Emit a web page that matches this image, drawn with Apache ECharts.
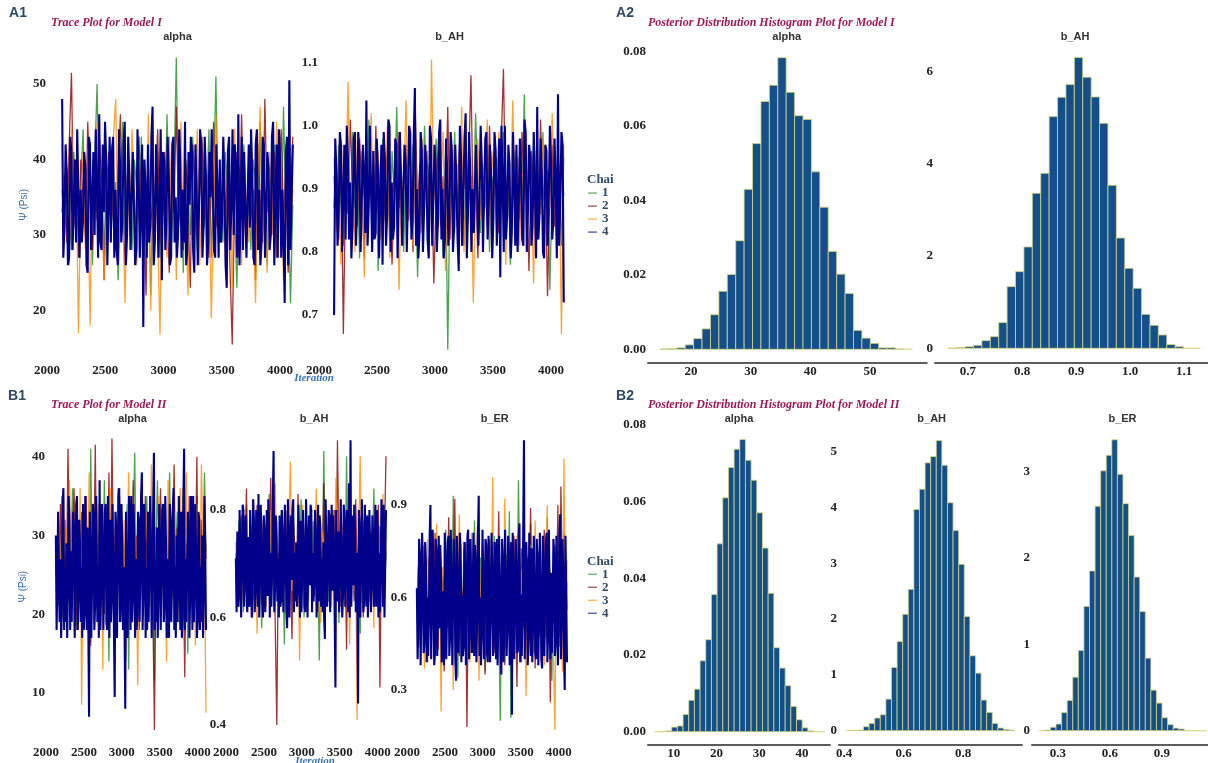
<!DOCTYPE html>
<html><head><meta charset="utf-8">
<script src="https://cdn.jsdelivr.net/npm/echarts@6/dist/echarts.min.js"></script>
<style>html,body{margin:0;padding:0;background:#fff}#c{width:1208px;height:763px}</style>
</head><body><div id="c"></div>
<script>
// ---------- chains ----------
const chainNames = ['1', '2', '3', '4'];
const chainColors = ['#1e8c1e', '#8b0000', '#ff8c00', '#00008b'];
const chainOpacity = [0.8, 0.8, 0.8, 1];
const chainWidth = [1.3, 1.3, 1.3, 2.1];
const iterStart = 2130, iterEnd = 4110;   // first and last plotted draw of every chain

// ---------- Model I trace: alpha ----------
const m1AlphaC1 = [36,31,39,33,28,41,35,30,37,44, 29,34,38,26,40,50,32,36,27,39, 35,42,31,37,24,33,45,30,38,34, 28,40,36,32,43,29,35,39,22,37, 33,41,27,36,31,46,34,29,38,53.5, 32,37,25,40,35,30,43,33,28,36, 39,31,34,44,27,37,51,32,35,29, 41,36,30,38,33,23,39,35,42,31, 34,28,40,37,32,45,30,36,26,39, 35,42,31,38,29,47,33,36,21,34];
const m1AlphaC2 = [33,38,29,42,51.5,31,36,27,40,34, 30,45,35,28,39,32,43,37,24,36, 41,31,35,29,38,46,33,26,37,32, 40,35,28,43,31,37,22,39,34,30, 36,44,29,35,41,32,25,38,33,47, 31,36,28,40,34,23,42,37,30,35, 43,32,38,27,36,45,31,34,29,40, 33,38,26,15.5,35,41,30,46,34,28, 39,32,36,24,42,35,29,48,33,37, 30,41,27,36,44,32,38,25,35,43];
const m1AlphaC3 = [42,30,37,26,44,33,39,17,35,41, 28,36,18,40,32,45,29,37,24,34, 39,31,43,48,27,36,33,21,38,30, 44,35,26,40,32,37,28,46,20,34, 38,30,16.8,41,35,27,43,33,39,24, 36,45,29,34,22,40,31,37,44,26, 35,41,28,38,19,33,46,30,36,42, 27,39,34,23,44,31,37,26,40,35, 29,43,33,21,38,47,30,36,25,41, 34,28,45,32,37,24,39,43,30,36];
const m1AlphaC4 = [48,27,31,42,38,26,27,43,41,28,34,40,29,44,44,27,36,29,32,41, 39,26,25,43,42,28,35,41,30,44,37,27,46,29,28,42,33,45,40,26, 34,43,29,41,43,27,36,28,26,44,39,29,32,42,45,26,30,43,37,28, 35,41,41,26,28,44,38,27,33,42,17.8,40,36,27,42,29,31,43,47,26, 29,42,37,27,34,44,24,41,40,28,32,43,38,26,27,42,43,29,35,27, 30,44,39,27,36,29,45,26,28,41,34,43,41,28,25,42,37,26,33,44, 42,27,31,43,38,26,29,41,35,44,44,28,27,42,36,27,40,29,32,43, 37,26,23,41,43,28,34,44,30,42,39,27,46,26,33,43,28,41,41,27, 35,42,31,44,38,27,26,42,44,28,36,26,29,43,42,27,33,41,39,28, 30,43,45,26,34,42,27,44,40,27,36,29,21,41,43,26,50.5,28,35,42];

// ---------- Model I trace: b_AH ----------
const m1bAHC1 = [0.92,0.85,0.97,0.88,0.81,0.95,0.90,0.83,0.99,0.87, 0.93,0.79,0.96,0.89,0.84,1.01,0.91,0.86,0.94,0.77, 0.90,0.98,0.85,0.92,0.82,0.96,0.88,1.03,0.87,0.93, 0.80,0.95,0.89,0.84,0.97,0.91,0.76,0.93,0.86,1.00, 0.88,0.94,0.83,0.90,0.98,0.85,0.92,0.79,0.95,0.645, 0.91,0.87,0.99,0.84,0.93,0.89,0.81,0.96,0.88,0.92, 0.85,1.02,0.90,0.83,0.94,0.87,0.97,0.80,0.92,0.89, 0.95,0.84,0.91,0.99,0.86,0.93,0.78,0.90,0.96,0.85, 0.92,0.88,1.05,0.83,0.94,0.89,0.97,0.82,0.91,0.87, 0.99,0.85,0.93,0.74,0.90,0.96,0.86,0.92,0.81,0.95];
const m1bAHC2 = [0.87,0.94,0.82,0.97,0.67,0.91,0.86,1.01,0.89,0.93, 0.84,0.98,0.90,0.79,0.95,0.88,0.92,0.83,1.00,0.86, 0.94,0.81,0.91,0.96,0.87,0.78,0.93,0.89,0.99,0.84, 0.91,0.97,0.85,0.92,0.80,1.02,0.88,0.94,0.83,0.90, 0.96,0.86,0.93,0.75,0.89,0.98,0.84,0.92,0.87,1.03, 0.82,0.95,0.90,0.86,0.97,0.81,0.93,0.88,0.94,1.08, 0.85,0.91,0.79,0.96,0.89,0.92,0.84,1.00,0.87,0.93, 0.90,0.83,0.97,1.09,0.86,0.94,0.80,0.91,0.88,0.95, 0.85,0.99,0.89,0.92,0.77,0.96,0.87,0.93,0.82,1.01, 0.88,0.94,0.73,0.90,0.97,0.84,0.92,0.86,0.95,0.89];
const m1bAHC3 = [0.95,0.83,0.91,0.78,0.97,0.88,1.07,0.85,0.93,0.80, 0.99,0.87,0.92,0.76,0.94,0.89,1.02,0.84,0.90,0.96, 0.82,0.93,0.88,1.00,0.79,0.91,0.86,0.97,0.74,0.92, 0.89,1.04,0.85,0.94,0.81,0.96,0.90,0.83,0.98,0.87, 0.93,0.79,1.105,0.88,0.95,0.84,0.91,0.99,0.77,0.92, 0.86,0.97,0.83,0.94,0.89,1.03,0.80,0.92,0.87,0.95, 0.72,0.90,0.98,0.85,0.93,0.88,1.01,0.82,0.96,0.91, 0.84,0.99,0.87,0.94,0.78,0.92,0.86,1.04,0.89,0.95, 0.81,0.93,0.88,0.97,0.84,0.91,0.75,0.96,0.90,0.86, 0.98,0.83,0.92,0.87,1.02,0.89,0.80,0.94,0.67,0.97];
const m1bAHC4 = [0.70,0.98,0.93,0.81,0.86,0.99,0.97,0.80,0.89,0.97,0.82,1.00,0.95,0.82,0.91,0.79,0.84,0.98,0.99,0.81, 0.88,0.99,0.94,0.80,0.80,0.97,0.92,0.83,1.04,0.81,0.87,1.00,0.90,0.80,0.96,0.82,0.83,0.98,0.93,0.79, 0.89,0.97,0.78,0.99,0.95,0.81,0.86,1.01,1.00,0.80,0.91,0.82,0.84,0.98,0.97,0.79,0.88,0.99,0.92,0.81, 0.81,0.97,0.94,0.80,0.89,1.00,0.99,0.82,0.85,0.98,1.06,0.81,0.90,0.79,0.83,0.99,0.96,0.80,0.87,0.97, 0.92,0.82,0.79,1.00,0.98,0.81,0.88,0.97,0.94,0.80,0.85,0.99,1.01,0.82,0.90,0.79,0.82,0.98,0.93,0.81, 0.87,0.99,0.96,0.80,0.84,0.97,0.91,0.82,0.77,1.00,0.95,0.81,0.89,0.98,1.02,0.79,0.86,0.99,0.92,0.80, 0.90,0.83,0.83,0.97,0.97,0.81,0.88,1.00,0.94,0.80,0.80,0.98,0.99,0.82,0.87,0.97,0.93,0.79,0.85,0.99, 0.96,0.81,0.89,0.98,0.76,1.00,0.92,0.80,1.00,0.82,0.86,0.97,0.94,0.79,0.83,0.99,0.91,0.81,0.97,0.80, 0.88,0.98,0.93,0.82,0.81,1.01,0.99,0.80,0.87,0.97,0.95,0.81,0.84,0.99,0.90,0.79,1.03,0.82,0.86,0.98, 0.92,0.80,0.79,0.97,0.96,0.81,0.89,1.00,0.94,0.82,0.85,0.98,0.91,0.79,1.05,0.81,0.88,0.99,0.97,0.72];

// ---------- Model II trace: alpha ----------
const m2AlphaC1 = [27,22,31,25,35,19,29,24,33,21, 28,36,23,30,18,26,32,20,34,27, 24,30,17,41,25,29,22,35,28,19, 31,26,37,23,27,14,33,25,30,21, 28,36,24,32,20,29,26,34,13,27, 23,31,40.5,25,28,19,33,22,30,26, 35,21,27,32,24,11.5,29,37,25,23, 30,26,34,20,28,38,24,31,22,27, 33,19,29,25,36,23,28,15,32,26, 24,30,21,35,27,18,31,25,38,28];
const m2AlphaC2 = [25,30,21,34,27,19,32,24,41,28, 22,29,36,26,18,31,25,33,20,27, 35,23,28,16,30,26,41.5,22,29,34, 24,27,20,32,25,38,21,42.3,26,30, 23,28,35,19,31,26,14,29,33,24, 27,37,22,30,25,18,32,28,21,35, 26,29,23,33,20,5.3,27,31,24,36, 28,22,30,17,26,34,25,29,39,23, 31,27,21,33,26,12,29,24,35,28, 22,30,26,40,19,28,32,25,34,27];
const m2AlphaC3 = [29,23,32,26,20,35,27,31,22,37, 25,30,18,33,27,24,36,8.5,28,21, 32,26,38,24,29,19,31,27,34,22, 28,13,33,25,30,21,36,26,23,31, 27,35,20,29,24,32,17,28,38,25, 30,22,34,27,11,31,25,36,23,29, 33,26,21,39,28,24,30,19,35,27, 23,32,28,14,37,25,30,22,33,26, 29,20,36,27,31,24,38,21,28,33, 25,30,16,34,27,23,39,29,26,7.5];
const m2AlphaC4 = [30,18,24,33,33,19,27,17,21,34,36,18,26,19,29,17,23,35,32,18, 28,19,19,33,31,17,25,34,35,18,22,32,29,19,26,17,34,18,20,35, 27,18,31,19,7,33,28,17,24,34,33,18,21,35,30,19,26,17,37,18, 23,34,29,18,25,33,34,19,18,35,28,17,32,19,22,34,27,18,9.5,33, 31,17,25,35,36,19,21,34,29,18,26,19,8,33,33,17,24,35,28,18, 35,19,22,34,30,17,27,18,20,33,32,19,25,35,38,18,23,34,29,17, 26,18,33,19,19,35,28,17,24,33,40.5,18,27,19,31,17,22,34,30,18, 25,33,34,19,21,35,29,17,27,18,17,34,32,19,24,33,36,18,26,17, 30,19,23,35,28,18,33,17,20,34,41,18,27,19,25,33,31,17,22,35, 29,18,35,19,24,34,27,17,19,33,32,18,26,19,30,17,23,35,28,18];

// ---------- Model II trace: b_AH ----------
const m2bAHC1 = [0.72,0.65,0.78,0.68,0.75,0.61,0.70,0.81,0.66,0.73, 0.69,0.76,0.63,0.71,0.79,0.67,0.74,0.58,0.70,0.77, 0.64,0.72,0.83,0.68,0.75,0.62,0.71,0.78,0.66,0.73, 0.80,0.69,0.55,0.74,0.67,0.76,0.71,0.63,0.79,0.70, 0.65,0.73,0.68,0.82,0.72,0.60,0.77,0.69,0.74,0.66, 0.71,0.78,0.64,0.75,0.70,0.52,0.73,0.67,0.91,0.69, 0.76,0.63,0.72,0.68,0.80,0.66,0.74,0.71,0.59,0.75, 0.69,0.77,0.65,0.90,0.70,0.62,0.73,0.68,0.81,0.71, 0.66,0.74,0.57,0.72,0.78,0.67,0.75,0.70,0.63,0.76, 0.71,0.84,0.68,0.73,0.61,0.77,0.69,0.74,0.65,0.72];
const m2bAHC2 = [0.68,0.75,0.62,0.73,0.79,0.66,0.71,0.84,0.64,0.70, 0.77,0.60,0.72,0.67,0.81,0.69,0.74,0.63,0.78,0.71, 0.65,0.73,0.70,0.86,0.67,0.75,0.58,0.40,0.72,0.68, 0.76,0.63,0.71,0.80,0.66,0.74,0.69,0.56,0.77,0.72, 0.67,0.83,0.70,0.64,0.75,0.71,0.78,0.62,0.73,0.68, 0.74,0.66,0.79,0.70,0.61,0.76,0.72,0.68,0.85,0.65, 0.71,0.77,0.64,0.73,0.69,0.80,0.67,0.93,0.70,0.62, 0.75,0.68,0.72,0.54,0.78,0.66,0.74,0.70,0.63,0.82, 0.69,0.73,0.67,0.76,0.60,0.71,0.79,0.65,0.74,0.70, 0.77,0.64,0.72,0.68,0.81,0.47,0.73,0.69,0.75,0.90];
const m2bAHC3 = [0.74,0.66,0.70,0.79,0.63,0.72,0.68,0.77,0.61,0.75, 0.69,0.82,0.65,0.71,0.57,0.73,0.78,0.64,0.70,0.76, 0.62,0.74,0.68,0.80,0.66,0.72,0.85,0.69,0.63,0.77, 0.71,0.67,0.75,0.60,0.73,0.79,0.89,0.65,0.70,0.74, 0.68,0.76,0.52,0.72,0.81,0.66,0.71,0.75,0.63,0.78, 0.70,0.64,0.73,0.84,0.67,0.72,0.59,0.76,0.69,0.74, 0.66,0.79,0.71,0.62,0.75,0.68,0.86,0.70,0.73,0.64, 0.77,0.69,0.74,0.67,0.80,0.55,0.72,0.78,0.65,0.71, 0.41,0.75,0.90,0.68,0.73,0.63,0.77,0.70,0.66,0.74, 0.72,0.58,0.79,0.69,0.75,0.67,0.71,0.83,0.64,0.73];
const m2bAHC4 = [0.71,0.61,0.76,0.62,0.64,0.80,0.73,0.60,0.68,0.81,0.80,0.62,0.66,0.79,0.72,0.61,0.75,0.63,0.62,0.80, 0.74,0.60,0.69,0.82,0.78,0.61,0.65,0.80,0.71,0.62,0.83,0.60,0.67,0.81,0.73,0.63,0.60,0.79,0.76,0.61, 0.70,0.80,0.64,0.82,0.77,0.60,0.72,0.62,0.68,0.81,0.91,0.61,0.66,0.79,0.74,0.63,0.71,0.60,0.79,0.62, 0.63,0.80,0.75,0.61,0.69,0.81,0.73,0.62,0.58,0.82,0.77,0.60,0.70,0.79,0.67,0.80,0.82,0.61,0.72,0.63, 0.74,0.62,0.65,0.81,0.71,0.60,0.78,0.61,0.68,0.80,0.73,0.62,0.61,0.82,0.76,0.60,0.70,0.79,0.66,0.81, 0.80,0.61,0.72,0.63,0.67,0.80,0.75,0.60,0.69,0.81,0.63,0.79,0.77,0.62,0.71,0.61,0.74,0.60,0.56,0.82, 0.73,0.62,0.68,0.80,0.79,0.61,0.70,0.81,0.65,0.79,0.74,0.60,0.47,0.80,0.72,0.63,0.76,0.61,0.69,0.82, 0.71,0.60,0.64,0.81,0.78,0.62,0.67,0.80,0.73,0.61,0.85,0.60,0.93,0.62,0.70,0.79,0.66,0.81,0.75,0.61, 0.72,0.63,0.44,0.80,0.77,0.60,0.69,0.82,0.74,0.61,0.63,0.81,0.71,0.62,0.79,0.60,0.68,0.80,0.73,0.61, 0.66,0.79,0.75,0.62,0.70,0.81,0.62,0.80,0.77,0.60,0.72,0.61,0.68,0.82,0.74,0.62,0.81,0.60,0.70,0.80];

// ---------- Model II trace: b_ER ----------
const m2bERC1 = [0.62,0.48,0.71,0.55,0.66,0.42,0.74,0.58,0.51,0.69, 0.61,0.79,0.45,0.64,0.53,0.72,0.38,0.67,0.59,0.82, 0.50,0.63,0.70,0.46,0.93,0.57,0.65,0.34,0.73,0.60, 0.54,0.76,0.49,0.68,0.62,0.40,0.71,0.56,0.85,0.52, 0.66,0.44,0.73,0.59,0.63,0.36,0.77,0.55,0.69,0.61, 0.47,0.80,0.58,0.65,0.52,0.20,0.70,0.62,0.43,0.74, 0.57,0.88,0.21,0.64,0.53,0.71,0.48,0.98,0.60,0.39, 0.67,0.55,0.75,0.50,0.63,0.84,0.45,0.69,0.58,0.72, 0.41,0.66,0.54,0.78,0.61,0.47,0.86,0.57,0.64,0.33, 0.70,0.52,0.62,0.76,0.44,0.68,0.59,0.81,0.49,0.65];
const m2bERC2 = [0.58,0.70,0.45,0.64,0.77,0.52,0.61,0.39,0.73,0.56, 0.67,0.49,0.81,0.60,0.43,0.71,0.55,0.65,0.36,0.74, 0.59,0.86,0.48,0.63,0.69,0.92,0.53,0.66,0.41,0.72, 0.57,0.64,0.78,0.18,0.61,0.50,0.75,0.44,0.68,0.58, 0.83,0.47,0.62,0.55,0.72,0.35,0.66,0.59,0.79,0.51, 0.64,0.42,0.70,0.57,0.88,0.49,0.63,0.74,0.38,0.60, 0.71,0.54,0.67,0.46,0.80,0.58,0.31,0.69,0.62,0.76, 0.50,0.65,0.43,0.73,0.57,0.89,0.52,0.68,0.37,0.61, 0.75,0.48,0.63,0.55,0.82,0.60,0.45,0.70,0.26,0.66, 0.53,0.77,0.59,0.90,0.47,0.96,0.62,0.40,0.71,0.56];
const m2bERC3 = [0.55,0.68,0.44,0.73,0.60,0.37,0.66,0.79,0.50,0.62, 0.71,0.47,0.58,0.84,0.53,0.65,0.23,0.70,0.56,0.42, 0.76,0.61,0.49,0.67,0.30,0.74,0.57,0.63,0.87,0.52, 0.60,0.45,0.72,0.55,0.68,0.39,0.81,0.58,0.64,0.48, 0.70,0.33,0.62,0.77,0.51,0.66,0.43,0.59,0.74,0.54, 0.99,0.46,0.63,0.57,0.71,0.40,0.68,0.53,0.92,0.61, 0.49,0.75,0.58,0.35,0.65,0.52,0.80,0.60,0.44,0.69, 0.56,0.72,0.28,0.64,0.50,0.77,0.59,0.42,0.85,0.62, 0.48,0.67,0.55,0.73,0.38,0.63,0.90,0.51,0.69,0.57, 0.44,0.17,0.66,0.54,0.78,0.61,0.36,1.05,0.50,0.72];
const m2bERC4 = [0.63,0.40,0.51,0.79,0.74,0.38,0.57,0.81,0.68,0.42,0.45,0.78,0.71,0.39,0.60,0.41,0.53,0.80,0.90,0.40, 0.56,0.82,0.66,0.38,0.42,0.79,0.75,0.41,0.59,0.80,0.50,0.77,0.69,0.39,0.62,0.42,0.38,0.81,0.73,0.40, 0.55,0.78,0.80,0.41,0.47,0.82,0.64,0.38,0.58,0.79,0.71,0.40,0.33,0.80,0.67,0.42,0.52,0.81,0.76,0.39, 0.61,0.41,0.44,0.78,0.70,0.38,0.57,0.80,0.82,0.40,0.49,0.79,0.65,0.42,0.59,0.81,0.41,0.77,0.72,0.39, 0.54,0.80,0.93,0.41,0.60,0.38,0.48,0.82,0.68,0.40,0.56,0.79,0.77,0.42,0.39,0.80,0.63,0.39,0.58,0.81, 0.70,0.41,0.46,0.78,0.62,0.40,0.79,0.38,0.52,0.80,0.66,0.42,0.35,0.79,0.73,0.39,0.57,0.82,0.64,0.41, 0.50,0.80,0.75,0.38,0.59,0.78,0.22,0.81,0.67,0.40,0.55,0.79,0.71,0.42,0.43,0.80,0.84,0.39,0.61,0.41, 0.53,0.82,1.11,0.40,0.58,0.78,0.69,0.38,0.47,0.81,0.63,0.41,0.76,0.39,0.51,0.80,0.66,0.42,0.40,0.79, 0.72,0.38,0.56,0.81,0.64,0.40,0.37,0.80,0.70,0.41,0.59,0.78,0.81,0.39,0.48,0.82,0.62,0.40,0.68,0.42, 0.55,0.79,0.74,0.41,0.45,0.80,0.65,0.38,0.58,0.81,0.87,0.40,0.52,0.79,0.69,0.42,0.30,0.80,0.61,0.39];

// ---------- Posterior histograms (bin start, bin width, density per bin) ----------
const m1AlphaBinStart = 14.8, m1AlphaBinWidth = 1.41;
const m1AlphaDensity = [0.0001,0.0002,0.0004,0.0012,0.0029,0.0055,0.0093,0.0156,0.0201,0.0292,0.0430,0.0553,0.0666,0.0710,0.0784,0.0691,0.0628,0.0618,0.0477,0.0382,0.0263,0.0202,0.0150,0.0051,0.0030,0.0016,0.0004,0.0004,0.0001,0];
const m1bAHBinStart = 0.6635, m1bAHBinWidth = 0.01556;
const m1bAHDensity = [0.007,0.014,0.036,0.065,0.166,0.253,0.557,1.338,1.663,2.198,3.362,3.796,5.025,5.445,5.719,6.305,5.879,5.452,4.881,3.536,2.393,1.735,1.302,0.737,0.499,0.289,0.080,0.036,0,0];
const m2AlphaBinStart = 5.55, m2AlphaBinWidth = 1.327;
const m2AlphaDensity = [0,0.0001,0.0002,0.0012,0.0015,0.0045,0.0082,0.0111,0.0185,0.0240,0.0358,0.0490,0.0610,0.0689,0.0737,0.0762,0.0708,0.0656,0.0571,0.0479,0.0361,0.0219,0.0166,0.0120,0.0066,0.0031,0.0010,0.0002,0,0];
const m2bAHBinStart = 0.409, m2bAHBinWidth = 0.01879;
const m2bAHDensity = [0.006,0.006,0.012,0.072,0.131,0.227,0.286,0.566,1.133,1.598,2.087,2.534,3.965,4.329,4.800,4.913,5.200,4.758,4.085,3.590,2.982,2.045,1.342,1.032,0.549,0.328,0.131,0.048,0.024,0.012];
const m2bERBinStart = 0.192, m2bERBinWidth = 0.0322;
const m2bERDensity = [0,0.008,0.04,0.077,0.21,0.35,0.62,0.93,1.44,1.85,2.60,3.01,3.19,3.37,2.97,2.63,2.26,1.78,1.38,0.84,0.47,0.32,0.15,0.07,0.03,0.02,0,0,0,0];

// ---------- styling ----------
const tickText = {fontFamily: 'Liberation Serif', fontWeight: 'bold', fontSize: 13, color: '#222'};
const barFill = '#124f8b', barEdge = '#dcd57e';
const psiColor = '#3a72b0', labelColor = '#2d4a66', titleColor = '#9b1a5a';

function lab(step, dec) {
  return v => Math.abs(v / step - Math.round(v / step)) < 1e-6 ? (Math.round(v / step) * step).toFixed(dec) : '';
}
function axis(gi, min, max, step, dec, margin, opts) {
  opts = opts || {};
  return Object.assign({
    type: 'value', gridIndex: gi, min: min, max: max, minInterval: step, maxInterval: step,
    axisLine: {show: !!opts.line, onZero: false, lineStyle: {color: '#5c5c5c', width: 2}},
    axisTick: {show: false}, splitLine: {show: false},
    axisLabel: Object.assign({}, tickText, {margin: margin, formatter: lab(step, dec), hideOverlap: false})
  }, opts.extra || {});
}

// grids: [left, top, width, height]
const grids = [
  [47, 53.8, 246.4, 302],     // A1 alpha
  [319, 50.1, 246.5, 309.2],  // A1 b_AH
  [46, 433, 161.5, 307.3],    // B1 alpha
  [226, 429.4, 161.5, 306.4], // B1 b_AH
  [407, 434.1, 161.5, 302.1], // B1 b_ER
  [648, 51.7, 278.7, 297.6],  // A2 alpha
  [935, 48.6, 273, 299.7],    // A2 b_AH
  [648, 425, 182, 306.7],     // B2 alpha
  [839, 423.8, 183, 306.9],   // B2 b_AH
  [1032, 419.9, 176, 310.8]   // B2 b_ER
];

const psiName = {name: 'Ψ (Psi)', nameLocation: 'middle', nameRotate: 90,
  nameTextStyle: {color: psiColor, fontFamily: 'Liberation Sans', fontSize: 10}};

const xAxes = [
  axis(0, 2000, 4115, 500, 0, 8.7),
  axis(1, 2000, 4125, 500, 0, 5.2),
  axis(2, 2000, 4130, 500, 0, 6.2),
  axis(3, 2000, 4130, 500, 0, 10.7),
  axis(4, 2000, 4130, 500, 0, 10.3),
  axis(5, 12.79, 59.5, 10, 0, 2.5, {line: true, extra: {offset: 13.4}}),
  axis(6, 0.6389, 1.1444, 0.1, 1, 2.5, {line: true, extra: {offset: 14.4}}),
  axis(7, 3.98, 46.56, 10, 0, 2.5, {line: true, extra: {offset: 12.6}}),
  axis(8, 0.3832, 0.9973, 0.2, 1, 2.5, {line: true, extra: {offset: 13.6}}),
  axis(9, 0.15, 1.1656, 0.3, 1, 2.5, {line: true, extra: {offset: 13.6}})
];
const yAxes = [
  axis(0, 14, 54, 10, 0, 1, {extra: Object.assign({nameGap: 12}, psiName)}),
  axis(1, 0.63, 1.12, 0.1, 1, 1),
  axis(2, 4, 43, 10, 0, 1, {extra: Object.assign({nameGap: 9}, psiName)}),
  axis(3, 0.38, 0.95, 0.2, 1, 0),
  axis(4, 0.15, 1.13, 0.3, 1, 0),
  axis(5, 0, 0.08, 0.02, 2, 2),
  axis(6, 0, 6.5, 2, 0, 2),
  axis(7, 0, 0.08, 0.02, 2, 2),
  axis(8, 0, 5.5, 1, 0, 2),
  axis(9, 0, 3.6, 1, 0, 2)
];

function traceSeries(gi, chains) {
  return chains.map((vals, c) => {
    const step = (iterEnd - iterStart) / (vals.length - 1);
    return {
      type: 'line', name: chainNames[c], xAxisIndex: gi, yAxisIndex: gi,
      data: vals.map((v, i) => [iterStart + i * step, v]),
      showSymbol: false, symbol: 'none', silent: true, z: 2 + c,
      lineStyle: {width: chainWidth[c], color: chainColors[c], opacity: chainOpacity[c]},
      itemStyle: {color: chainColors[c]}
    };
  });
}
function histSeries(gi, start, width, dens) {
  return {
    type: 'custom', xAxisIndex: gi, yAxisIndex: gi, silent: true,
    data: dens.map((d, k) => [start + k * width, start + (k + 1) * width, d]),
    encode: {x: [0, 1], y: 2},
    renderItem: function (params, api) {
      const p0 = api.coord([api.value(0), 0]);
      const p1 = api.coord([api.value(1), api.value(2)]);
      return {type: 'rect',
        shape: {x: p0[0], y: p1[1], width: p1[0] - p0[0], height: p0[1] - p1[1]},
        style: {fill: barFill, stroke: barEdge, lineWidth: 0.8}};
    }
  };
}

const series = [].concat(
  traceSeries(0, [m1AlphaC1, m1AlphaC2, m1AlphaC3, m1AlphaC4]),
  traceSeries(1, [m1bAHC1, m1bAHC2, m1bAHC3, m1bAHC4]),
  traceSeries(2, [m2AlphaC1, m2AlphaC2, m2AlphaC3, m2AlphaC4]),
  traceSeries(3, [m2bAHC1, m2bAHC2, m2bAHC3, m2bAHC4]),
  traceSeries(4, [m2bERC1, m2bERC2, m2bERC3, m2bERC4]),
  [histSeries(5, m1AlphaBinStart, m1AlphaBinWidth, m1AlphaDensity),
   histSeries(6, m1bAHBinStart, m1bAHBinWidth, m1bAHDensity),
   histSeries(7, m2AlphaBinStart, m2AlphaBinWidth, m2AlphaDensity),
   histSeries(8, m2bAHBinStart, m2bAHBinWidth, m2bAHDensity),
   histSeries(9, m2bERBinStart, m2bERBinWidth, m2bERDensity)]
);

function txt(text, x, y, font, fill, align) {
  return {type: 'text', x: x, y: y, silent: true,
    style: {text: text, font: font, fill: fill, align: align || 'center', verticalAlign: 'middle',
            textAlign: align || 'center', textVerticalAlign: 'middle'}};
}
const fLetter = 'bold 14px "Liberation Sans"';
const fTitle = 'italic bold 12px "Liberation Serif"';
const fFacet = 'bold 11px "Liberation Sans"';
const graphics = [
  txt('A1', 18, 13.5, fLetter, labelColor), txt('A2', 625, 13.5, fLetter, labelColor),
  txt('B1', 17, 396, fLetter, labelColor), txt('B2', 625, 396, fLetter, labelColor),
  txt('Trace Plot for Model I', 51, 22.7, fTitle, titleColor, 'left'),
  txt('Posterior Distribution Histogram Plot for Model I', 648, 22.7, fTitle, titleColor, 'left'),
  txt('Trace Plot for Model II', 51, 405, fTitle, titleColor, 'left'),
  txt('Posterior Distribution Histogram Plot for Model II', 648, 405, fTitle, titleColor, 'left'),
  txt('alpha', 177.5, 37, fFacet, '#333'), txt('b_AH', 449.5, 37, fFacet, '#333'),
  txt('alpha', 786.7, 37.3, fFacet, '#333'), txt('b_AH', 1075, 37, fFacet, '#333'),
  txt('alpha', 132.5, 419.3, fFacet, '#333'), txt('b_AH', 314, 419.3, fFacet, '#333'),
  txt('b_ER', 494.7, 419.3, fFacet, '#333'),
  txt('alpha', 739, 419.3, fFacet, '#333'), txt('b_AH', 931.7, 419.3, fFacet, '#333'),
  txt('b_ER', 1122.5, 419.3, fFacet, '#333'),
  txt('Chai', 587, 180, 'bold 13px "Liberation Serif"', labelColor, 'left'),
  txt('Chai', 587, 561.7, 'bold 13px "Liberation Serif"', labelColor, 'left'),
  txt('Iteration', 314, 378, 'italic bold 11px "Liberation Serif"', psiColor),
  txt('Iteration', 315, 761, 'italic bold 11px "Liberation Serif"', psiColor)
];

function legendAt(top, lh) {
  return {data: chainNames, orient: 'vertical', left: 588, top: top, padding: 0,
    itemWidth: 9, itemHeight: 1.5, itemGap: 0, icon: 'rect', selectedMode: false,
    itemStyle: {opacity: 0.6},
    textStyle: {fontFamily: 'Liberation Serif', fontWeight: 'bold', fontSize: 13, color: labelColor, lineHeight: lh}};
}

const chart = echarts.init(document.getElementById('c'), null, {renderer: 'canvas'});
chart.setOption({
  backgroundColor: '#ffffff',
  animation: false,
  grid: grids.map(g => ({left: g[0], top: g[1], width: g[2], height: g[3], containLabel: false, outerBoundsMode: 'none'})),
  xAxis: xAxes,
  yAxis: yAxes,
  legend: [legendAt(186.6, 10.7), legendAt(567.8, 11.1)],
  series: series,
  graphic: graphics
});
</script></body></html>
